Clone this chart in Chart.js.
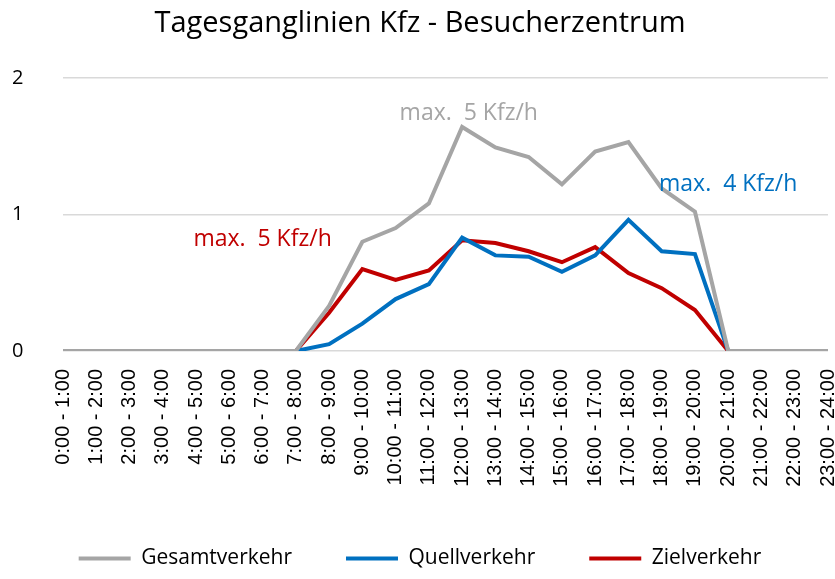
<!DOCTYPE html>
<html>
<head>
<meta charset="utf-8">
<script src="https://cdn.jsdelivr.net/npm/chart.js@4"></script>
<style>
  html, body { margin: 0; padding: 0; background: #fff; }
  #wrap { width: 835px; height: 579px; }
</style>
</head>
<body>
<div id="wrap"><canvas id="chart"></canvas></div>
<script>
var stunden = ["0:00 - 1:00", "1:00 - 2:00", "2:00 - 3:00", "3:00 - 4:00", "4:00 - 5:00", "5:00 - 6:00",
	"6:00 - 7:00", "7:00 - 8:00", "8:00 - 9:00", "9:00 - 10:00", "10:00 - 11:00", "11:00 - 12:00",
	"12:00 - 13:00", "13:00 - 14:00", "14:00 - 15:00", "15:00 - 16:00", "16:00 - 17:00", "17:00 - 18:00",
	"18:00 - 19:00", "19:00 - 20:00", "20:00 - 21:00", "21:00 - 22:00", "22:00 - 23:00", "23:00 - 24:00"];

var gesamt = [0, 0, 0, 0, 0, 0, 0, 0, 0.33, 0.80, 0.90, 1.08, 1.64, 1.49, 1.42, 1.22, 1.46, 1.53, 1.19, 1.02, 0, 0, 0, 0];
var quell  = [0, 0, 0, 0, 0, 0, 0, 0, 0.05, 0.20, 0.38, 0.49, 0.83, 0.70, 0.69, 0.58, 0.70, 0.96, 0.73, 0.71, 0, 0, 0, 0];
var ziel   = [0, 0, 0, 0, 0, 0, 0, 0, 0.28, 0.60, 0.52, 0.59, 0.81, 0.79, 0.73, 0.65, 0.76, 0.57, 0.46, 0.30, 0, 0, 0, 0];

var yTicks = [0, 1, 2];

// Beschriftungen: Text, Farbe, Kategorie-Index und y-Wert fuer die Lage
var maxTexte = [
	{ text: "max.  5 Kfz/h", color: "#a5a5a5", idx: 12.2, val: 1.74 },
	{ text: "max.  4 Kfz/h", color: "#0070c0", idx: 20.0, val: 1.22 },
	{ text: "max.  5 Kfz/h", color: "#c00000", idx: 6.0, val: 0.82 }
];

var textPlugin = {
	id: "maxTexte",
	afterDatasetsDraw: function (chart) {
		var ctx = chart.ctx;
		var xs = chart.scales.x, ys = chart.scales.y;
		ctx.save();
		ctx.font = "23px 'Open Sans'";
		ctx.textAlign = "center";
		ctx.textBaseline = "middle";
		maxTexte.forEach(function (t) {
			var x0 = xs.getPixelForValue(Math.floor(t.idx));
			var x1 = xs.getPixelForValue(Math.floor(t.idx) + 1);
			var x = x0 + (x1 - x0) * (t.idx - Math.floor(t.idx));
			ctx.fillStyle = t.color;
			ctx.fillText(t.text, x, ys.getPixelForValue(t.val));
		});
		ctx.restore();
	}
};

function linie(label, data, color) {
	return {
		label: label,
		data: data,
		borderColor: color,
		backgroundColor: color,
		borderWidth: 4,
		pointRadius: 0,
		tension: 0,
		fill: false
	};
}

var chart = new Chart(document.getElementById("chart"), {
	type: "line",
	data: {
		labels: stunden,
		datasets: [
			linie("Gesamtverkehr", gesamt, "#a5a5a5"),
			linie("Quellverkehr", quell, "#0070c0"),
			linie("Zielverkehr", ziel, "#c00000")
		]
	},
	plugins: [textPlugin],
	options: {
		responsive: true,
		maintainAspectRatio: false,
		animation: false,
		layout: { padding: { left: 12, right: 7, top: 0, bottom: 0 } },
		plugins: {
			title: {
				display: true,
				text: "Tagesganglinien Kfz - Besucherzentrum",
				color: "#000",
				font: { family: "'Open Sans'", size: 29, weight: "normal" },
				padding: { top: 6, bottom: 37 }
			},
			legend: {
				display: true,
				position: "bottom",
				labels: {
					usePointStyle: true,
					pointStyle: "line",
					pointStyleWidth: 52,
					color: "#000",
					font: { family: "'Open Sans'", size: 21 },
					padding: 54
				}
			},
			tooltip: { enabled: false }
		},
		scales: {
			x: {
				offset: false,
				grid: { display: false },
				border: { display: false },
				afterFit: function (axis) {
					axis.paddingLeft = 0;
					axis.paddingRight = 0;
					axis.height = 143;
				},
				ticks: {
					autoSkip: false,
					maxRotation: 90,
					minRotation: 90,
					color: "#000",
					padding: 10,
					font: { family: "'Liberation Sans'", size: 20 }
				}
			},
			y: {
				min: 0,
				max: 2,
				afterBuildTicks: function (axis) {
					axis.ticks = yTicks.map(function (v) { return { value: v }; });
				},
				afterFit: function (axis) {
					axis.width = 51;
				},
				grid: { color: "#d9d9d9", lineWidth: 1.5, drawTicks: false },
				border: { display: false },
				ticks: {
					color: "#000",
					crossAlign: "far",
					padding: 0,
					font: { family: "'Open Sans'", size: 20 }
				}
			}
		}
	}
});
</script>
</body>
</html>
